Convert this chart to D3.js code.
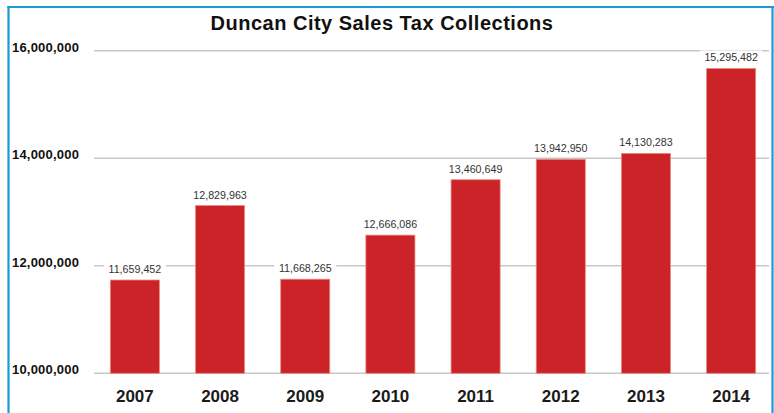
<!DOCTYPE html>
<html>
<head>
<meta charset="utf-8">
<script src="https://cdn.jsdelivr.net/npm/d3@7"></script>
<style>
  body { margin: 0; background: #fff; }
  svg { display: block; }
</style>
</head>
<body>
<div id="chart"></div>
<script>
// data
const years = ['2007', '2008', '2009', '2010', '2011', '2012', '2013', '2014']
// printed labels above each bar
const labelValues = [11659452, 12829963, 11668265, 12666086, 13460649, 13942950, 14130283, 15295482]
// bar heights as drawn (they do not quite agree with the printed labels)
const barValues = [11735000, 13120000, 11750000, 12570000, 13600000, 13980000, 14090000, 15670000]
const yTicks = [10000000, 12000000, 14000000, 16000000]

const width = 774
const height = 413

const svg = d3.select('#chart')
    .append('svg')
    .attr('width', width)
    .attr('height', height)

// blue frame
const frame = svg.append('g').attr('stroke', '#1a9ad8').attr('stroke-width', 2.2)
frame.append('line').attr('x1', 8.5).attr('x2', 8.5).attr('y1', 6).attr('y2', height)
frame.append('line').attr('x1', 7.5).attr('x2', width).attr('y1', 7).attr('y2', 7)
frame.append('line').attr('x1', 772.5).attr('x2', 772.5).attr('y1', 6).attr('y2', height)

svg.append('text')
    .attr('x', 382)
    .attr('y', 29.5)
    .attr('text-anchor', 'middle')
    .attr('font-family', 'Liberation Sans, Arial, sans-serif')
    .attr('font-weight', 'bold')
    .attr('font-size', 20)
    .attr('letter-spacing', 0.5)
    .attr('fill', '#111')
    .text('Duncan City Sales Tax Collections')

const y = d3.scaleLinear().domain([10000000, 16000000]).range([373.3, 50.7])
const x = d3.scaleBand().domain(years).range([95, 771]).paddingInner(0.424).paddingOuter(0.18)

// gridlines
svg.append('g')
    .selectAll('line')
    .data(yTicks)
    .enter().append('line')
    .attr('x1', 94)
    .attr('x2', 769)
    .attr('y1', d => y(d))
    .attr('y2', d => y(d))
    .attr('stroke', '#c8c8c8')
    .attr('stroke-width', 1.6)

// y tick labels
svg.append('g')
    .selectAll('text')
    .data(yTicks)
    .enter().append('text')
    .attr('x', 12)
    .attr('y', d => y(d) + 1)
    .attr('font-family', 'Liberation Sans, Arial, sans-serif')
    .attr('font-weight', 'bold')
    .attr('font-size', 13)
    .attr('letter-spacing', 0.2)
    .attr('fill', '#111')
    .text(d => d3.format(',')(d))

const fmt = d3.format(',')
const bars = years.map((yr, i) => ({ year: yr, bar: barValues[i], label: labelValues[i] }))

svg.append('g')
    .selectAll('rect')
    .data(bars)
    .enter().append('rect')
    .attr('x', d => x(d.year))
    .attr('width', x.bandwidth())
    .attr('y', d => y(d.bar))
    .attr('height', d => y(10000000) - y(d.bar))
    .attr('fill', '#cc2329')
    .attr('stroke', '#e98a80')
    .attr('stroke-width', 0.8)

// value labels with white backing
const lab = svg.append('g')
    .selectAll('g')
    .data(bars)
    .enter().append('g')
    .attr('transform', d => 'translate(' + (x(d.year) + x.bandwidth() / 2) + ',' + (y(d.bar) - 7) + ')')

lab.append('rect')
    .attr('x', -31)
    .attr('y', -11)
    .attr('width', 62)
    .attr('height', 15)
    .attr('fill', '#fff')

lab.append('text')
    .attr('text-anchor', 'middle')
    .attr('font-family', 'Liberation Sans, Arial, sans-serif')
    .attr('font-size', 10.7)
    .attr('fill', '#333')
    .text(d => fmt(d.label))

// year labels
svg.append('g')
    .selectAll('text')
    .data(years)
    .enter().append('text')
    .attr('x', d => x(d) + x.bandwidth() / 2)
    .attr('y', 402)
    .attr('text-anchor', 'middle')
    .attr('font-family', 'Liberation Sans, Arial, sans-serif')
    .attr('font-weight', 'bold')
    .attr('font-size', 17)
    .attr('fill', '#1a1a1a')
    .text(d => d)
</script>
</body>
</html>
